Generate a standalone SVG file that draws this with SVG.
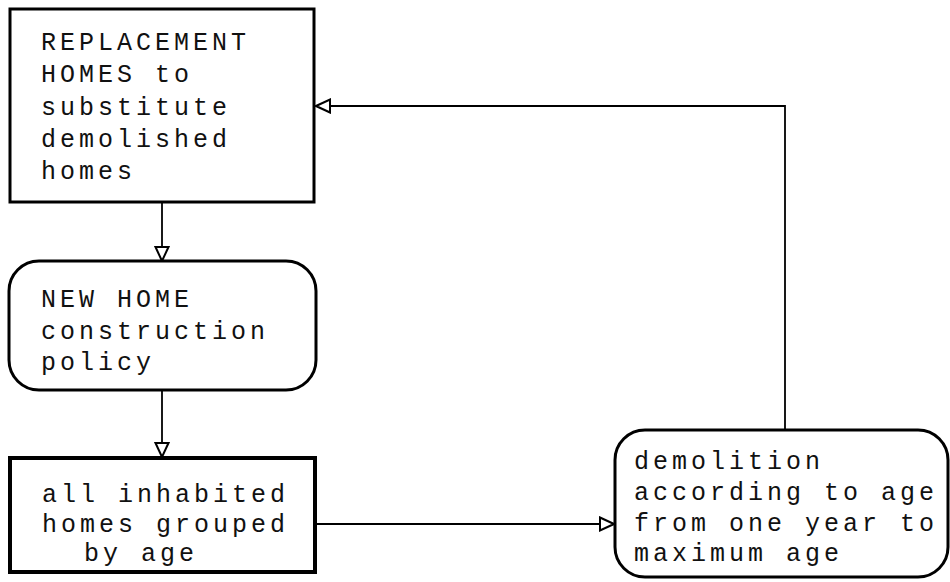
<svg xmlns="http://www.w3.org/2000/svg" width="950" height="582" viewBox="0 0 950 582">
  <defs>
    <style>
      .box { fill: #fff; stroke: #000; stroke-width: 3; }
      .lbl { font-family: "Liberation Mono", "DejaVu Sans Mono", monospace; font-size: 25px; letter-spacing: 4px; fill: #111; }
      .wire { fill: none; stroke: #000; stroke-width: 1.8; }
    </style>
    <!-- open triangular arrowhead -->
    <marker id="head" viewBox="0 0 16 16" refX="15" refY="8" markerWidth="16" markerHeight="16" markerUnits="userSpaceOnUse" orient="auto">
      <path d="M1,1.5 L15,8 L1,14.5 Z" fill="#fff" stroke="#000" stroke-width="2"/>
    </marker>
  </defs>

  <!-- connectors -->
  <g id="connectors">
    <path class="wire" d="M162,202 V261" marker-end="url(#head)"/>
    <path class="wire" d="M162,390 V457" marker-end="url(#head)"/>
    <path class="wire" d="M316,524 H614" marker-end="url(#head)"/>
    <path class="wire" d="M785,430 V106 H316" marker-end="url(#head)"/>
  </g>

  <g id="replacement-homes">
    <rect class="box" x="10" y="9" width="304" height="193"/>
    <text class="lbl" x="41" y="50">REPLACEMENT</text>
    <text class="lbl" x="41" y="82">HOMES to</text>
    <text class="lbl" x="41" y="115">substitute</text>
    <text class="lbl" x="41" y="147">demolished</text>
    <text class="lbl" x="41" y="179">homes</text>
  </g>

  <g id="construction-policy">
    <rect class="box" x="9" y="261" width="307" height="129" rx="30" ry="30"/>
    <text class="lbl" x="41" y="307">NEW HOME</text>
    <text class="lbl" x="41" y="339">construction</text>
    <text class="lbl" x="41" y="370">policy</text>
  </g>

  <g id="inhabited-homes">
    <rect class="box" x="10" y="458" width="305" height="114" style="stroke-width:4"/>
    <text class="lbl" x="42" y="502">all inhabited</text>
    <text class="lbl" x="42" y="532">homes grouped</text>
    <text class="lbl" x="84" y="561">by age</text>
  </g>

  <g id="demolition">
    <rect class="box" x="615" y="430" width="333" height="147" rx="30" ry="30"/>
    <text class="lbl" x="634" y="469">demolition</text>
    <text class="lbl" x="634" y="500">according to age</text>
    <text class="lbl" x="634" y="531">from one year to</text>
    <text class="lbl" x="634" y="561">maximum age</text>
  </g>
</svg>
